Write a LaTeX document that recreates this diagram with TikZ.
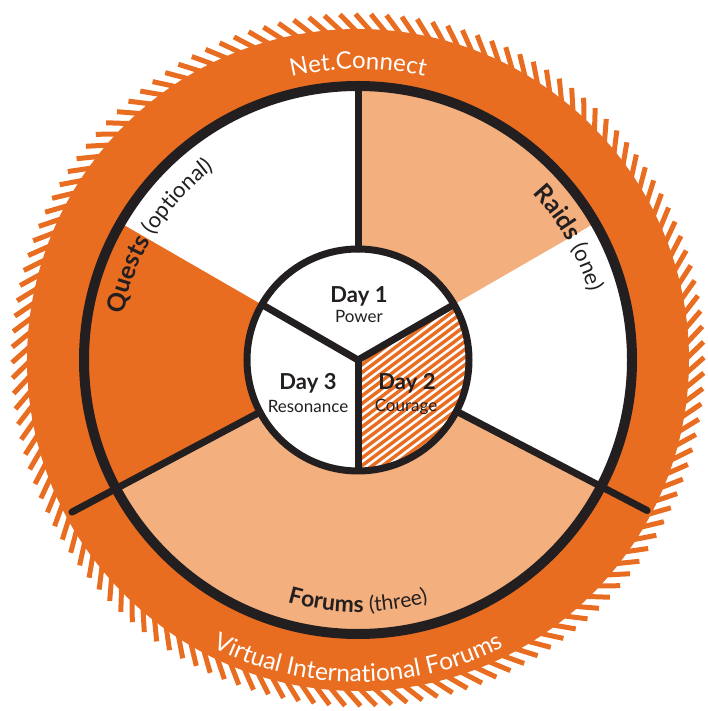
\documentclass[tikz,border=0pt]{standalone}
\usepackage{fontspec}
\setmainfont{Lato}
\usetikzlibrary{decorations.text}
\definecolor{org}{HTML}{E96D20}
\definecolor{peach}{HTML}{F4AF7E}
\definecolor{ink}{HTML}{231F20}
\tikzset{
  tick/.style={org, line width=5pt},
  divider/.style={ink, line width=7pt, line cap=round},
  hatchline/.style={org, line width=3.4pt},
  daylabel/.style={anchor=base, text=ink, font=\fontsize{22}{26}\selectfont\bfseries},
  dayname/.style={anchor=base, text=ink, font=\fontsize{17}{20}\selectfont},
}
\begin{document}
\begin{tikzpicture}[x=1pt,y=1pt]
\useasboundingbox (-358,-351) rectangle (350,360);
% outer serrated disk
\fill[org] (0,0) circle[radius=331];
\foreach \i in {0,...,139}
  \draw[tick] (\i*2.5714:327) -- (\i*2.5714+3:346);
% sectors
\fill[peach] (0,0) -- (30:274) arc[start angle=30,end angle=90,radius=274] -- cycle;
\fill[white] (0,0) -- (-27.5:274) arc[start angle=-27.5,end angle=30,radius=274] -- cycle;
\fill[peach] (0,0) -- (208:274) arc[start angle=208,end angle=332.5,radius=274] -- cycle;
\fill[white] (0,0) -- (90:274) arc[start angle=90,end angle=150,radius=274] -- cycle;
% inner circle
\fill[white] (0,0) circle[radius=111];
\begin{scope}
  \clip (0,0) -- (-90:111) arc[start angle=-90,end angle=30,radius=111] -- cycle;
  \begin{scope}[rotate=37]
    \foreach \k in {-22,...,22}
      \draw[hatchline] (-140,\k*6.2) -- (140,\k*6.2);
  \end{scope}
\end{scope}
% dividers
\draw[divider] (90:111) -- (90:274);
\draw[divider] (208:111) -- (208:324);
\draw[divider] (332.5:111) -- (332.5:326);
\draw[ink, line width=7pt, line join=round] (30:111) -- (0,0) -- (150:111);
\draw[ink, line width=7pt] (0,0) -- (270:111);
\draw[ink, line width=10pt] (0,0) circle[radius=274];
\draw[ink, line width=7pt] (0,0) circle[radius=111];
% curved texts
\path[decorate, decoration={text along path, text align=center, text color=white,
  text={|\fontsize{24}{28}\selectfont|Net.Connect}}]
  (120:291) arc[start angle=120,end angle=60,radius=291];
\path[decorate, decoration={text along path, text align=center, text color=white,
  text={|\fontsize{24.5}{28}\selectfont|Virtual International Forums}}]
  (225:322) arc[start angle=225,end angle=315,radius=322];
\path[decorate, decoration={text along path, text align=center, text color=ink,
  text={|\fontsize{25}{30}\selectfont\bfseries|Quests |\fontsize{22}{26}\selectfont\mdseries|(optional)}}]
  (188:239) arc[start angle=188,end angle=108,radius=239];
\path[decorate, decoration={text along path, text align=center, text color=ink,
  text={|\fontsize{25}{30}\selectfont\bfseries|Raids |\fontsize{22}{26}\selectfont\mdseries|(one)}}]
  (70:241) arc[start angle=70,end angle=-10,radius=241];
\path[decorate, decoration={text along path, text align=center, text color=ink,
  text={|\fontsize{23}{27}\selectfont\bfseries|Forums |\fontsize{21}{25}\selectfont\mdseries|(three)}}]
  (230:252) arc[start angle=230,end angle=310,radius=252];
% day labels
\node[daylabel] (d1) at (1,57) {Day 1};
\node[dayname] (n1) at (1,37) {Power};
\node[daylabel] (d3) at (-50,-30) {Day 3};
\node[dayname] (n3) at (-50,-53) {Resonance};
\node[daylabel] (d2) at (49,-30) {Day 2};
\node[dayname] (n2) at (48,-52) {Courage};
\end{tikzpicture}
\end{document}
